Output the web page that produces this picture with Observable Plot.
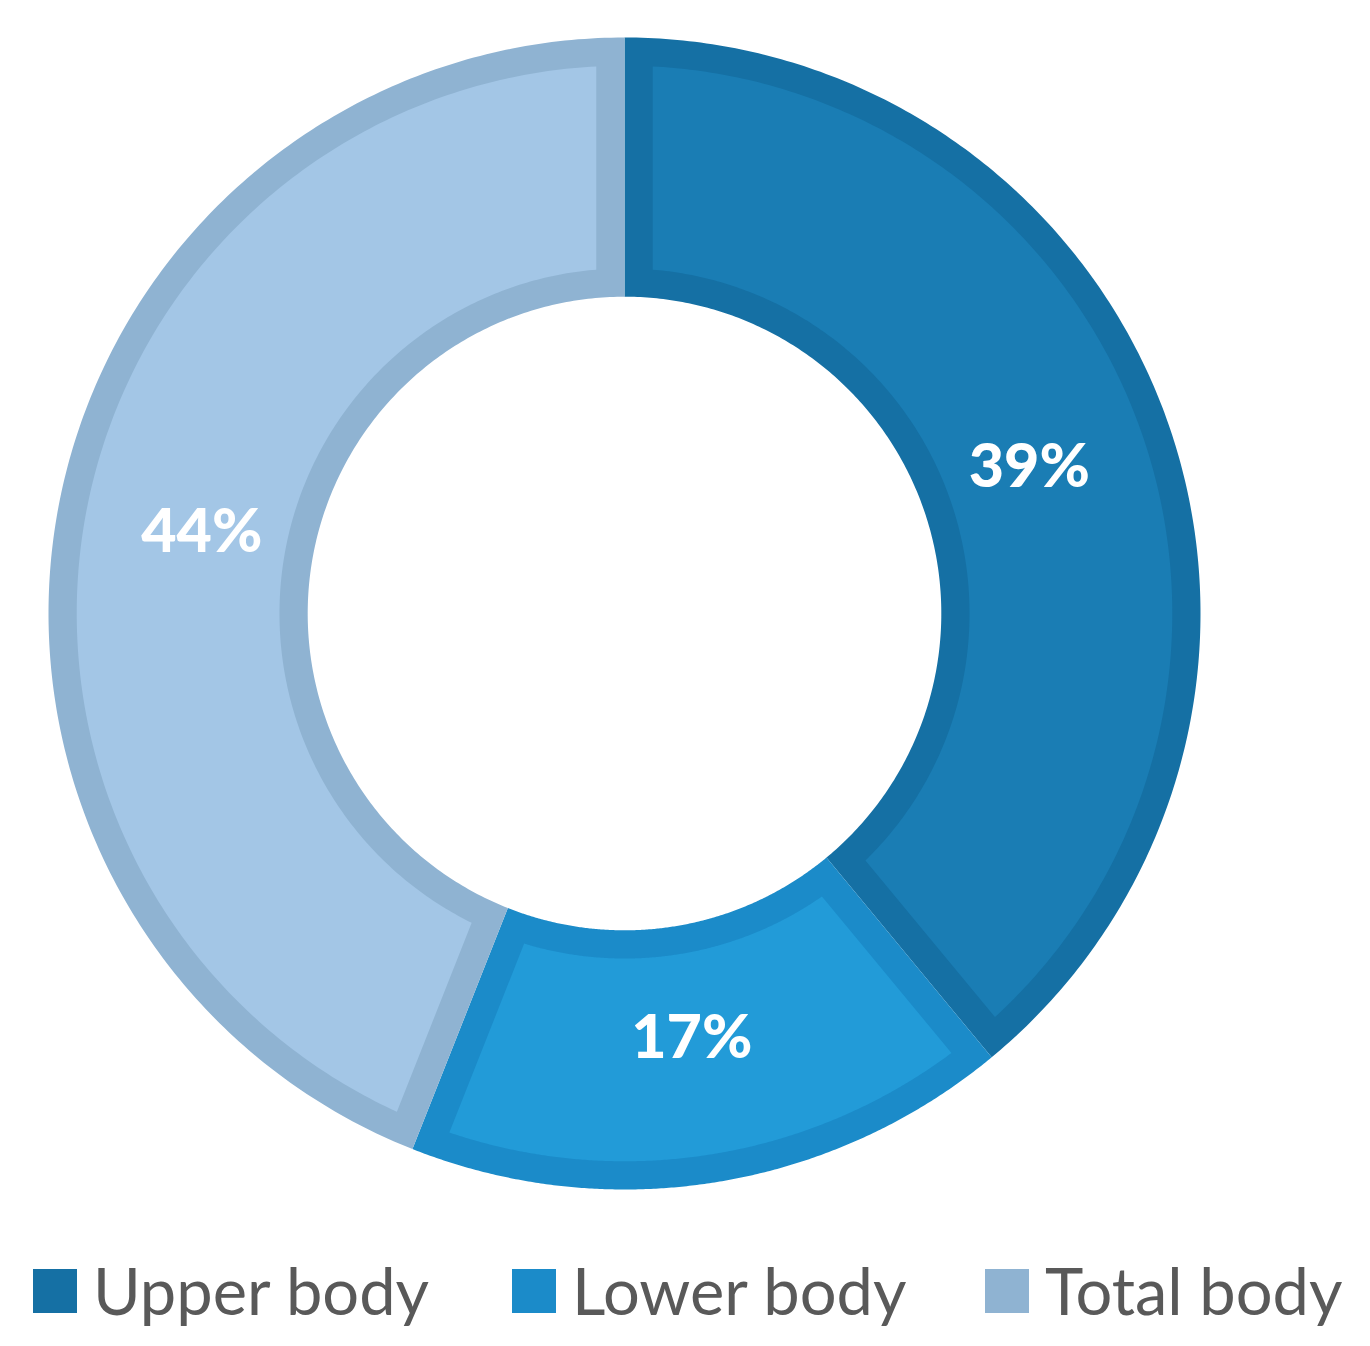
<!DOCTYPE html>
<html>
<head>
<meta charset="utf-8">
<script src="https://cdn.jsdelivr.net/npm/d3@7"></script>
<script src="https://cdn.jsdelivr.net/npm/@observablehq/plot@0.6"></script>
<style>
  html, body { margin: 0; padding: 0; background: #ffffff; }
  #chart { position: relative; width: 1370px; }
  #legend { position: relative; width: 1370px; height: 106px; font-family: Lato, "Open Sans", sans-serif; }
  .item { position: absolute; top: 18px; display: flex; align-items: center; }
  .sw { width: 44px; height: 44px; margin-right: 16px; }
  .lab { font-size: 65px; color: #595959; line-height: 1; }
</style>
</head>
<body>
<div id="chart"></div>
<div id="legend"></div>
<script>
// ---- data ----
const categories = ["Upper body", "Lower body", "Total body"];
const values = [39, 17, 44];
const labels = ["39%", "17%", "44%"];
const fillColors = ["#1a7db4", "#229bd8", "#a3c6e6"];
const borderColors = ["#1570a4", "#1b8bc9", "#8fb3d2"];

// ---- geometry (unit: outer radius = 1) ----
const W = 1370, H = 1240;
const cx = 624, cy = 613, Rpx = 576;
const R = 1, r = 0.55, bw = 0.049, labelR = 0.747;

const pie = d3.pie().sort(null).value(d => d)(values);

function arcPoints(a0, a1, ro, ri, inset) {
  const pts = [];
  const n = 240;
  const dOut = inset ? Math.asin(inset / ro) : 0;
  const dIn = inset ? Math.asin(inset / ri) : 0;
  for (let i = 0; i <= n; i++) {
    const a = (a0 + dOut) + ((a1 - dOut) - (a0 + dOut)) * i / n;
    pts.push([ro * Math.sin(a), ro * Math.cos(a)]);
  }
  for (let i = 0; i <= n; i++) {
    const a = (a1 - dIn) - ((a1 - dIn) - (a0 + dIn)) * i / n;
    pts.push([ri * Math.sin(a), ri * Math.cos(a)]);
  }
  return pts;
}

const shapes = [];
pie.forEach((p, i) => {
  arcPoints(p.startAngle, p.endAngle, R, r, 0).forEach(([x, y]) =>
    shapes.push({x, y, key: "b" + i, color: borderColors[i]}));
  arcPoints(p.startAngle, p.endAngle, R - bw, r + bw, bw).forEach(([x, y]) =>
    shapes.push({x, y, key: "f" + i, color: fillColors[i]}));
});

const labelData = pie.map((p, i) => {
  const a = (p.startAngle + p.endAngle) / 2;
  return {x: labelR * Math.sin(a), y: labelR * Math.cos(a), text: labels[i]};
});

const plot = Plot.plot({
  width: W,
  height: H,
  margin: 0,
  x: {domain: [-cx / Rpx, (W - cx) / Rpx], axis: null},
  y: {domain: [-(H - cy) / Rpx, cy / Rpx], axis: null},
  marks: [
    Plot.line(shapes, {x: "x", y: "y", z: "key", fill: "color", stroke: "none", curve: "linear-closed"}),
    Plot.text(labelData, {x: "x", y: "y", text: "text", fill: "white", fontSize: 61, fontWeight: 900,
      fontFamily: "Lato, 'Open Sans', sans-serif"})
  ]
});
document.getElementById("chart").appendChild(plot);

// ---- legend ----
const legendLeft = [33, 512, 985];
const legend = document.getElementById("legend");
categories.forEach((c, i) => {
  const item = document.createElement("div");
  item.className = "item";
  item.style.left = legendLeft[i] + "px";
  const sw = document.createElement("div");
  sw.className = "sw";
  sw.style.background = borderColors[i];
  const lab = document.createElement("span");
  lab.className = "lab";
  lab.textContent = c;
  item.appendChild(sw);
  item.appendChild(lab);
  legend.appendChild(item);
});
</script>
</body>
</html>
